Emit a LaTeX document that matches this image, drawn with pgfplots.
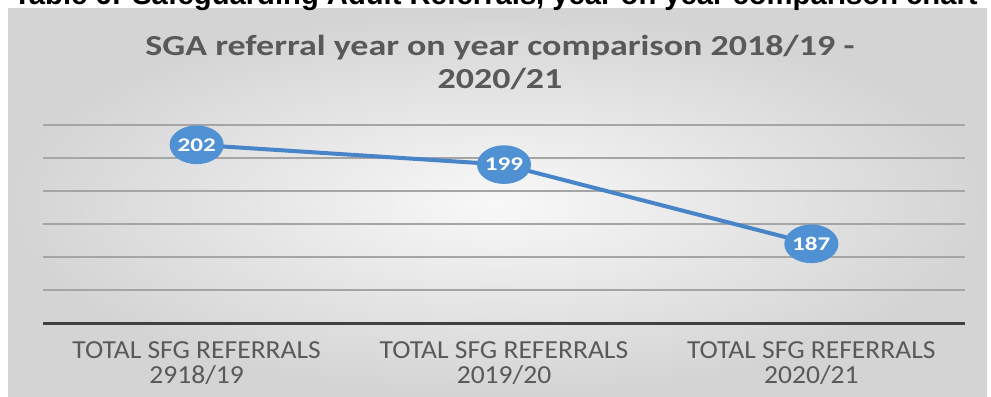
\documentclass[border=0pt]{standalone}
\usepackage{fontspec}
\setmainfont{Carlito}
\newfontfamily\hdrfont{Liberation Sans}
\usepackage{graphicx}
\usepackage{pgfplots}
\pgfplotsset{compat=1.18}
\usetikzlibrary{shapes.geometric}
\definecolor{txtgray}{RGB}{89,89,89}
\definecolor{mkblue}{RGB}{80,145,212}
\definecolor{lnblue}{RGB}{72,132,200}
\definecolor{bglight}{RGB}{248,248,248}
\definecolor{bgdark}{RGB}{212,212,212}
\definecolor{gridc}{RGB}{165,165,165}
\definecolor{axc}{RGB}{64,64,64}
\begin{document}
\begin{tikzpicture}
\useasboundingbox (0,0) rectangle (743.25pt,297pt);
\shade[inner color=bglight, outer color=bgdark] (6pt,0pt) rectangle (740.25pt,290.25pt);
\node[anchor=base west, inner sep=0pt, font=\hdrfont\bfseries\fontsize{21.9pt}{26pt}\selectfont] at (9.75pt,293.25pt) {Table 6: Safeguarding Adult Referrals, year on year comparison chart};
\node[align=center, text=txtgray, inner sep=0pt, xscale=1.24, transform shape, font=\bfseries\fontsize{21.75pt}{24.75pt}\selectfont] at (375pt,250pt) {SGA referral year on year comparison 2018/19 -\\2020/21};
\begin{axis}[
  at={(32.25pt,54.75pt)}, anchor=south west,
  scale only axis, width=691.5pt, height=148.5pt,
  xmin=-0.5, xmax=2.5, ymin=175, ymax=205,
  axis x line*=bottom, axis y line*=left,
  x axis line style={-, color=axc, line width=2.25pt},
  y axis line style={draw=none},
  xtick={0,1,2},
  xticklabels={{TOTAL SFG REFERRALS\\2918/19},{TOTAL SFG REFERRALS\\2019/20},{TOTAL SFG REFERRALS\\2020/21}},
  xticklabel style={align=center, text=txtgray, inner sep=0pt, anchor=north, yshift=-13.5pt, xscale=1.06, font=\fontsize{19.5pt}{18.75pt}\selectfont},
  xtick style={draw=none},
  ytick={180,185,190,195,200,205},
  yticklabels={},
  ytick style={draw=none},
  ymajorgrids,
  major grid style={color=gridc, line width=1.2pt},
  /pgf/number format/assume math mode=true,
  clip=false,
]
\addplot[color=lnblue, line width=3pt, mark=none,
  nodes near coords={\scalebox{1.3}[1]{\pgfmathprintnumber{\pgfplotspointmeta}}},
  every node near coord/.append style={anchor=center, ellipse, fill=mkblue, text=white, inner sep=0pt, minimum width=37pt, minimum height=29pt, font=\bfseries\fontsize{14.5pt}{17pt}\selectfont},
] coordinates {(0,202) (1,199) (2,187)};
\end{axis}
\end{tikzpicture}
\end{document}
